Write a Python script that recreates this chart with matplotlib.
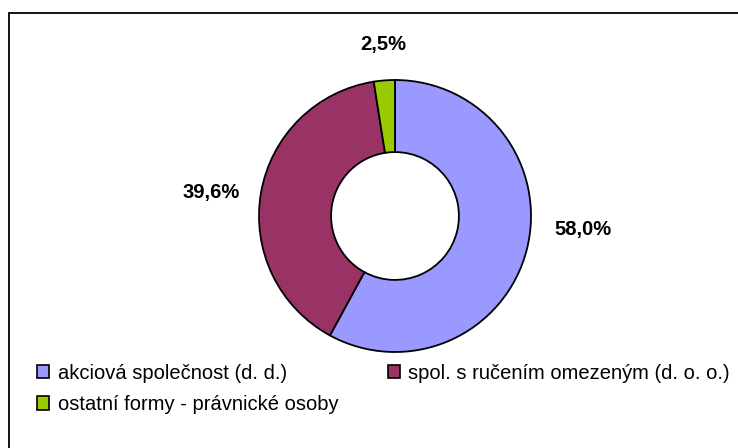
import matplotlib
matplotlib.use("Agg")
import matplotlib.pyplot as plt
from matplotlib.patches import Patch, Rectangle

categories = ["akciová společnost (d. d.)",
              "spol. s ručením omezeným (d. o. o.)",
              "ostatní formy - právnické osoby"]
values = [58.0, 39.6, 2.5]
colors = ["#9999FF", "#993366", "#99CC00"]
label_pos = [(1.38, -0.10), (-1.35, 0.17), (-0.09, 1.26)]

plt.rcParams['font.family'] = ['Liberation Sans', 'DejaVu Sans']

W, H = 738, 448
fig = plt.figure(figsize=(W / 100, H / 100), dpi=100)

# outer frame
fig.add_artist(Rectangle((9 / W, -0.1), 1.2, 1 - 13 / H + 0.1, transform=fig.transFigure,
                         fill=False, edgecolor="black", linewidth=1.3))

cx, cy, R = 395, 216, 136
xr, yr = 2.0, 1.5
ax = fig.add_axes([(cx - xr * R) / W, (H - cy - yr * R) / H, 2 * xr * R / W, 2 * yr * R / H])
wedges, _ = ax.pie(values, colors=colors, startangle=90, counterclock=False,
                   radius=1.0,
                   wedgeprops=dict(width=0.53, edgecolor="black", linewidth=1.3))
ax.set_xlim(-xr, xr)
ax.set_ylim(-yr, yr)
ax.set_aspect('auto')
ax.axis('off')

for v, (lx, ly) in zip(values, label_pos):
    ax.text(lx, ly, f"{v:.1f}%".replace(".", ","), ha="center", va="center",
            fontsize=14.5, fontweight="bold")

handles = [Patch(facecolor=c, edgecolor="black", linewidth=1.2) for c in colors]
order = [0, 2, 1]
fig.legend([handles[i] for i in order], [categories[i] for i in order],
           ncol=2, loc="upper left", bbox_to_anchor=(37 / W, 1 - 364 / H),
           frameon=False, fontsize=14.5, handlelength=0.62, handleheight=0.62,
           handletextpad=0.4, columnspacing=2.45, labelspacing=0.6,
           borderpad=0, borderaxespad=0)

fig.savefig("out.png", dpi=100)
